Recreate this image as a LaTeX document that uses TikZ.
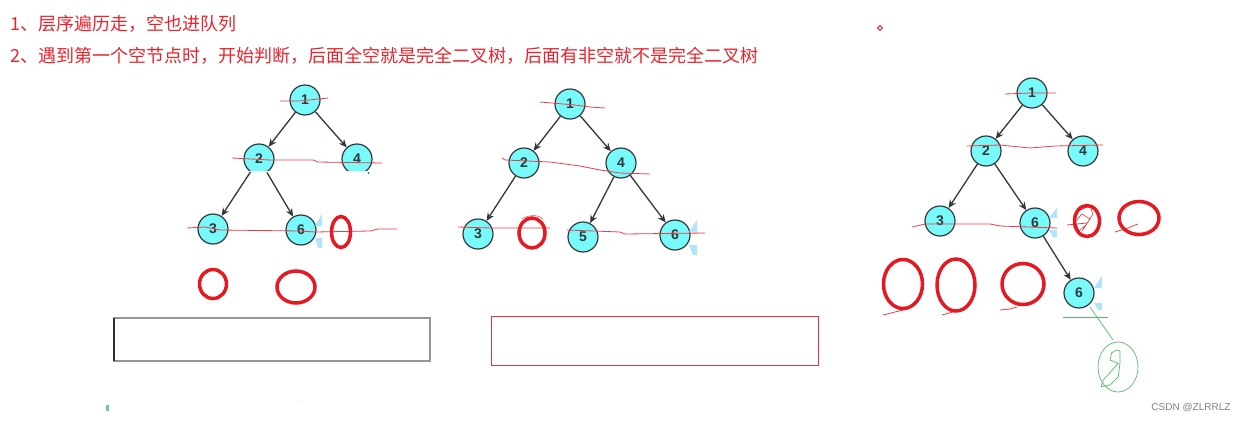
\documentclass[tikz,border=0pt]{standalone}
\usepackage{fontspec}
\setsansfont{Liberation Sans}
\newfontfamily\cjk{Noto Sans CJK SC}
\usetikzlibrary{arrows.meta}
\definecolor{nodefill}{RGB}{120,250,250}
\definecolor{nodeborder}{RGB}{50,55,60}
\definecolor{textred}{RGB}{235,35,45}
\definecolor{penred}{RGB}{230,25,35}
\definecolor{thinred}{RGB}{236,60,70}
\definecolor{handleblue}{RGB}{175,228,250}
\definecolor{pengreen}{RGB}{80,190,100}
\definecolor{boxgray}{RGB}{150,150,150}
\definecolor{boxdark}{RGB}{45,45,45}
\definecolor{boxred}{RGB}{235,50,60}
\tikzset{
  treenode/.style={circle,draw=nodeborder,line width=1.2pt,fill=nodefill,minimum size=30pt,inner sep=0pt,
    font=\sffamily\bfseries\fontsize{14}{14}\selectfont,text=nodeborder},
  edge/.style={draw=nodeborder,line width=1.3pt,-{Stealth[length=8pt,width=7pt]}},
  strike/.style={draw=thinred,line width=0.8pt},
  oval/.style={draw=penred,line width=3.5pt},
  handle/.style={fill=handleblue},
  title/.style={anchor=west,inner sep=0pt,text=textred,font=\cjk\fontsize{18}{18}\selectfont},
}
\begin{document}
\begin{tikzpicture}[x=1pt,y=-1pt]
\useasboundingbox (0,0) rectangle (1248,421);
\fill[white] (0,0) rectangle (1248,421);

% titles
\node[title] (line1) at (10,24) {1、层序遍历走，空也进队列};
\node[title] (line2) at (10,56) {2、遇到第一个空节点时，开始判断，后面全空就是完全二叉树，后面有非空就不是完全二叉树};

% ---------- tree 1 ----------
\node[treenode] (a1) at (305,100) {1};
\node[treenode] (a2) at (259,159) {2};
\node[treenode] (a4) at (357,159) {4};
\node[treenode] (a3) at (213,229) {3};
\node[treenode] (a6) at (301,230) {6};
\fill[white] (240,170.5) rectangle (378,176);
\draw[nodeborder,line width=0.8pt] (368,172) -- (369,174);
\draw[edge] (a1) -- (a2);
\draw[edge] (a1) -- (a4);
\draw[edge] (a2) -- (a3);
\draw[edge] (a2) -- (a6);
\fill[handle] (322,214) -- (322,226) -- (315,226) -- cycle;
\fill[handle] (315,238) -- (322,238) -- (322,248) -- (318,248) -- cycle;
\draw[strike] (280,101) -- (300,101) -- (318,99) -- (328,98);
\draw[strike] (232,158) -- (270,160) -- (313,160) -- (318,162) -- (382,163);
\draw[strike] (187,228) -- (205,227) -- (220,230) -- (300,231) -- (315,232) -- (370,231) -- (378,229) -- (397,229);
\draw[oval] (341,232) ellipse [x radius=9.5pt,y radius=15.5pt];
\draw[oval] (213,284) ellipse [x radius=13.5pt,y radius=14.5pt];
\draw[oval] (296,287) ellipse [x radius=19pt,y radius=16pt];

% ---------- tree 2 ----------
\node[treenode] (b1) at (570,104) {1};
\node[treenode] (b2) at (524,163) {2};
\node[treenode] (b4) at (621,163) {4};
\node[treenode] (b3) at (478,234) {3};
\node[treenode] (b5) at (583,237) {5};
\node[treenode] (b6) at (675,235) {6};
\draw[edge] (b1) -- (b2);
\draw[edge] (b1) -- (b4);
\draw[edge] (b2) -- (b3);
\draw[edge] (b4) -- (b5);
\draw[edge] (b4) -- (b6);
\fill[handle] (697,220) -- (697,232) -- (689,232) -- cycle;
\fill[handle] (689,245) -- (697,245) -- (697,255) -- (693,255) -- cycle;
\draw[strike] (540,102) -- (575,105) -- (590,107) -- (605,108);
\draw[strike] (502,158) -- (505,160) -- (550,162) -- (580,166) -- (600,170) -- (620,173) -- (650,174);
\draw[strike] (458,227) -- (490,228) -- (550,228);
\draw[strike] (567,230) -- (620,232) -- (625,234) -- (705,233);
\draw[oval] (532,233) ellipse [x radius=13pt,y radius=15pt];
\draw[thinred,line width=0.5pt] (522,219) .. controls (528,215) and (538,214) .. (543,219);

% ---------- tree 3 ----------
\node[treenode] (c1) at (1032,93) {1};
\node[treenode] (c2) at (986,151) {2};
\node[treenode] (c4) at (1083,151) {4};
\node[treenode] (c3) at (940,221) {3};
\node[treenode] (c6) at (1035,223) {6};
\node[treenode] (c7) at (1079,293) {6};
\draw[edge] (c1) -- (c2);
\draw[edge] (c1) -- (c4);
\draw[edge] (c2) -- (c3);
\draw[edge] (c2) -- (c6);
\draw[edge] (c6) -- (c7);
\fill[handle] (1057,208) -- (1057,218) -- (1049,218) -- cycle;
\fill[handle] (1049,230) -- (1057,230) -- (1057,237) -- (1053,237) -- cycle;
\fill[handle] (1102,276) -- (1102,288) -- (1094,288) -- cycle;
\fill[handle] (1094,303) -- (1102,303) -- (1102,310) -- (1098,310) -- cycle;
\draw[strike] (1005,94) -- (1030,93) -- (1056,93);
\draw[strike] (967,146) -- (1000,145) -- (1030,148) -- (1055,146) -- (1103,145);
\draw[strike] (912,227) -- (925,224) -- (990,224) -- (1000,226) -- (1057,228);
\draw[strike] (1067,225) -- (1087,223);
\draw[strike] (1115,232) -- (1128,228) -- (1138,224);
\draw[strike] (883,315) -- (907,309);
\draw[strike] (942,315) -- (960,310);
\draw[strike] (1000,310) -- (1010,309) -- (1017,307);
\draw[oval] (1087,221) ellipse [x radius=12.5pt,y radius=15.5pt];
\draw[penred,line width=0.5pt] (1080,210) -- (1090,206) -- (1093,214) -- (1086,225) -- (1079,231) -- (1075,222) -- (1082,214) -- (1090,219) -- (1082,231);
\draw[oval] (1139,218) ellipse [x radius=20pt,y radius=16.5pt];
\draw[oval] (903,284) ellipse [x radius=19.5pt,y radius=24.5pt];
\draw[oval] (956,285) ellipse [x radius=19pt,y radius=26pt];
\draw[oval] (1023,284) ellipse [x radius=21pt,y radius=20.5pt];

% green annotation
\draw[pengreen,line width=0.8pt] (1063,317) -- (1108,317);
\draw[pengreen,line width=0.7pt] (1090,307) -- (1113,340);
\draw[pengreen,line width=0.7pt] (1118,367) ellipse [x radius=20pt,y radius=25pt];
\draw[pengreen,line width=0.7pt] (1116.7,350) -- (1120,351) -- (1120,363.3) -- (1118.3,376.7) -- (1110,385) -- (1101,386.7) -- (1103.3,380) -- (1118.3,363.3) -- (1110,360) -- (1111.7,352.7) -- cycle;

% boxes
\draw[boxgray,line width=1.3pt] (114,318) rectangle (430,361);
\draw[boxdark,line width=1.3pt] (114,318) -- (114,361);
\draw[boxred,line width=0.9pt] (491,316) rectangle (818,365);

% small marks
\draw[penred,line width=0.8pt] (880,25.5) -- (882.5,28) -- (880,30.5) -- (877.5,28) -- cycle;
\fill[pengreen!80!white] (105.5,404.5) rectangle (108.5,410.5);
\fill[gray!60] (301,401) circle (0.5pt);

% watermark
\node[anchor=center,inner sep=0pt,text=gray,font=\sffamily\fontsize{10}{10}\selectfont] (wm) at (1191,408) {CSDN @ZLRRLZ};
\end{tikzpicture}
\end{document}
